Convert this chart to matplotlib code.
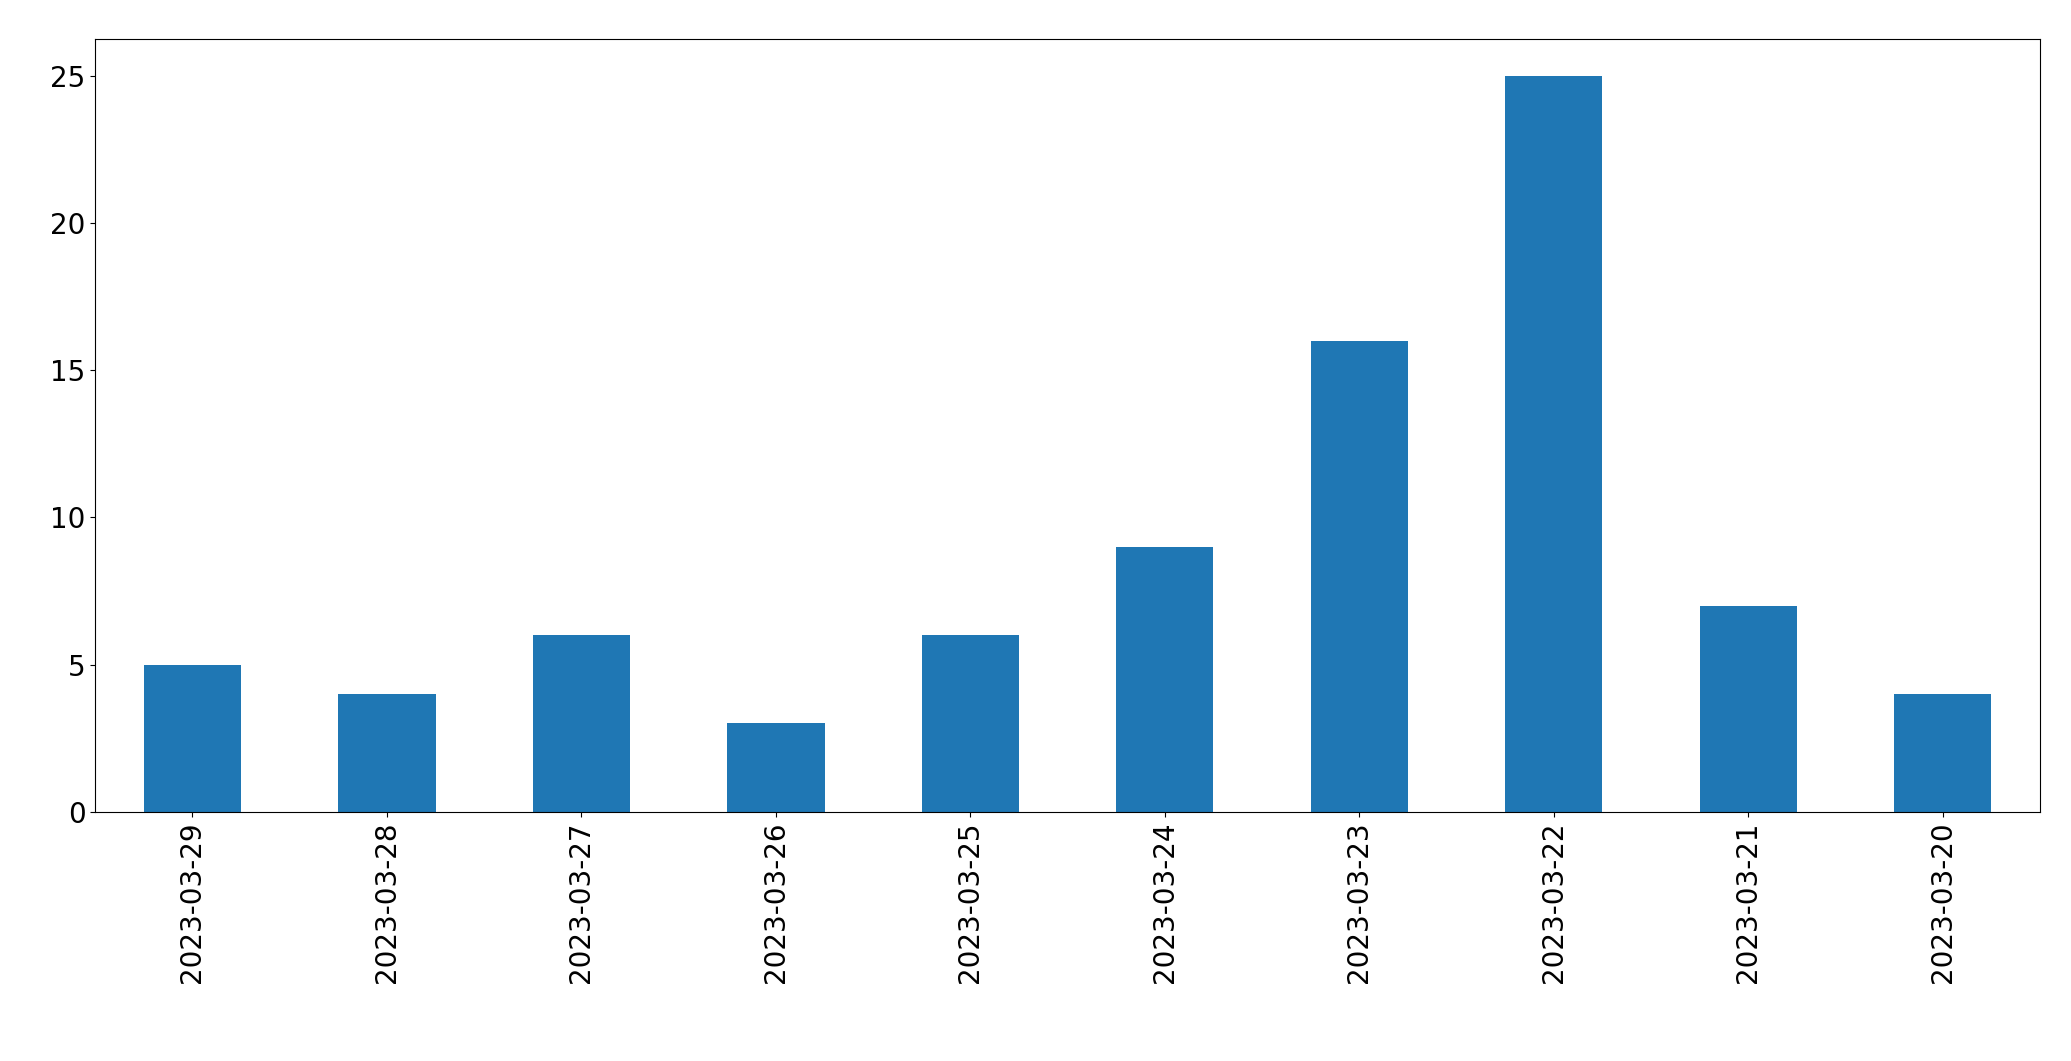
import numpy as np
import matplotlib.pyplot as plt

dates = ['2023-03-29', '2023-03-28', '2023-03-27', '2023-03-26', '2023-03-25',
         '2023-03-24', '2023-03-23', '2023-03-22', '2023-03-21', '2023-03-20']
counts = [5, 4, 6, 3, 6, 9, 16, 25, 7, 4]

fig = plt.figure(figsize=(20.71, 10.61), dpi=100)
ax = fig.add_axes([0.046, 0.235, 0.939, 0.728])
x = np.arange(len(dates))
ax.bar(x, counts, width=0.5, color='#1f77b4')
ax.set_xlim(-0.5, len(dates) - 0.5)
ax.set_xticks(x)
ax.set_xticklabels(dates, rotation=90, fontsize=20)
ax.tick_params(axis='y', labelsize=20)
ax.set_yticks([0, 5, 10, 15, 20, 25])

fig.savefig('out.png', dpi=100)
